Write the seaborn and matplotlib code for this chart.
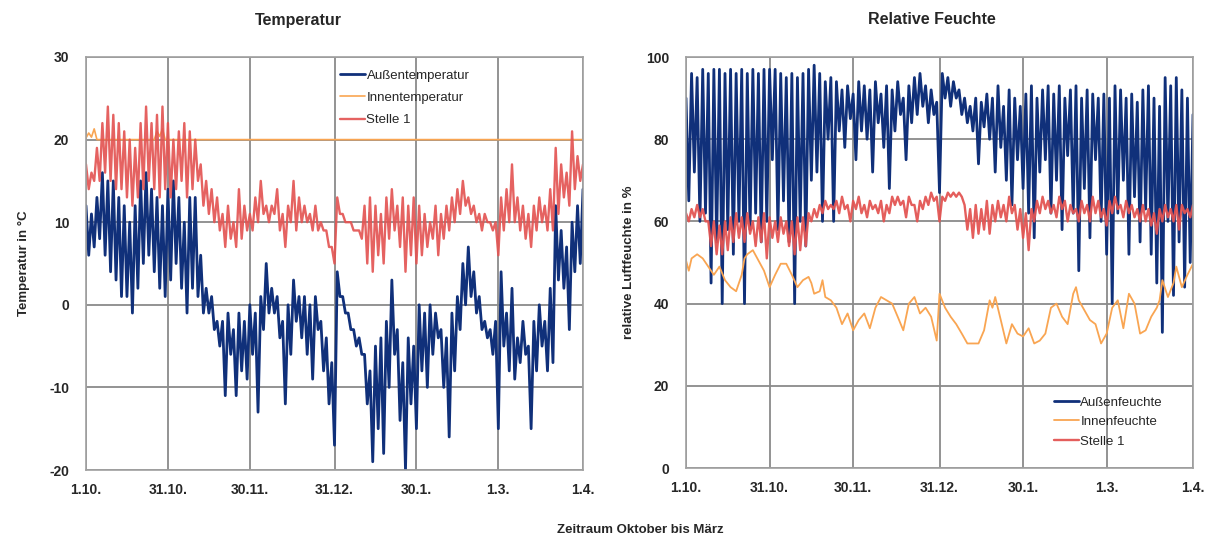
import numpy as np
import pandas as pd
import matplotlib
matplotlib.use("Agg")
import matplotlib.pyplot as plt
import seaborn as sns

# ---------------- data ----------------
tick_days = [0, 30, 60, 91, 121, 151, 182]
tick_labels = ["1.10.", "31.10.", "30.11.", "31.12.", "30.1.", "1.3.", "1.4."]

# Temperature: (high, low) per 2-day window, last value = day 182
aussen_temp_hi = [12, 11, 13, 16, 15, 15, 13, 12, 10, 12, 15, 16, 14, 13, 12, 14, 15, 13, 10, 13,
                  13, 6, 2, 1, -2, -2, -1, -3, -1, -2, 0, -1, 1, 5, 2, 1, -2, 0, 3, 1,
                  1, 0, 1, -2, -4, -7, 4, 1, -1, -3, -4, -6, -8, -5, -4, -2, 3, -3, -7, -4,
                  -5, 0, -1, 0, -1, -3, -4, -1, 1, 5, 7, 4, 1, -2, -3, -2, 4, -1, 2, -4,
                  -2, -5, -2, 0, -2, 2, 12, 9, 7, 10, 12]
aussen_temp_lo = [6, 7, 8, 6, 4, 3, 1, 1, -1, 2, 5, 6, 4, 2, 1, 3, 5, 2, -1, 2,
                  1, -1, -1, -3, -5, -11, -6, -11, -8, -9, -6, -13, -3, -1, -1, -4, -12, -6, -2, -4,
                  -6, -9, -3, -8, -12, -17, 1, -1, -3, -5, -6, -12, -19, -15, -18, -10, -6, -14, -20, -12,
                  -15, -8, -10, -6, -4, -10, -16, -8, -3, 0, 1, -1, -3, -4, -6, -15, -5, -8, -9, -7,
                  -6, -15, -8, -5, -8, -7, 3, 2, -3, 4, 5]
aussen_temp_end = 14

stelle_temp_hi = [17, 16, 19, 22, 24, 23, 22, 21, 20, 19, 22, 24, 22, 23, 24, 22, 20, 21, 22, 21,
                  20, 17, 15, 14, 13, 11, 12, 10, 14, 12, 11, 13, 15, 12, 12, 14, 11, 12, 15, 13,
                  12, 11, 12, 10, 9, 7, 13, 11, 10, 9, 9, 12, 13, 12, 11, 13, 14, 12, 13, 12,
                  13, 12, 11, 10, 12, 11, 12, 13, 14, 15, 13, 12, 11, 11, 10, 10, 13, 14, 17, 13,
                  12, 11, 12, 13, 12, 14, 19, 17, 16, 21, 18]
stelle_temp_lo = [14, 15, 15, 16, 15, 14, 14, 13, 12, 13, 14, 15, 14, 13, 14, 13, 14, 15, 13, 14,
                  15, 12, 11, 10, 9, 7, 8, 7, 8, 9, 9, 10, 11, 10, 11, 9, 7, 10, 9, 10,
                  10, 9, 9, 9, 7, 5, 11, 10, 10, 9, 8, 5, 4, 6, 5, 8, 9, 7, 4, 6,
                  5, 6, 7, 8, 6, 8, 9, 10, 11, 12, 11, 10, 9, 10, 9, 6, 9, 10, 10, 9,
                  8, 7, 9, 10, 9, 9, 11, 13, 12, 14, 15]
stelle_temp_end = 17

innen_temp_days = [0, 1, 2, 3, 4, 5, 6, 25, 26, 27, 28, 29, 182]
innen_temp_vals = [20.2, 20.8, 20.3, 21.3, 20.0, 20.0, 20.0, 20.0, 21.0, 20.4, 21.3, 20.0, 20.0]

# Relative humidity
aussen_rh_hi = [90, 96, 95, 97, 96, 97, 97, 96, 97, 96, 97, 96, 97, 96, 97, 97, 97, 96, 95, 96,
                95, 96, 97, 98, 96, 94, 95, 94, 92, 93, 91, 94, 93, 92, 94, 91, 93, 92, 94, 90,
                93, 95, 96, 93, 92, 89, 96, 95, 94, 92, 90, 88, 90, 89, 91, 90, 93, 88, 92, 90,
                88, 91, 93, 90, 92, 93, 91, 93, 90, 92, 93, 90, 92, 91, 90, 91, 90, 93, 92, 90,
                91, 89, 92, 93, 90, 88, 95, 93, 95, 92, 90]
aussen_rh_lo = [65, 72, 60, 62, 45, 55, 40, 58, 52, 60, 40, 58, 62, 55, 60, 75, 58, 65, 55, 40,
                60, 54, 70, 72, 60, 80, 60, 82, 78, 85, 75, 82, 80, 72, 84, 78, 68, 82, 86, 75,
                84, 86, 88, 84, 86, 67, 90, 88, 90, 86, 84, 82, 74, 83, 80, 72, 78, 70, 64, 75,
                68, 62, 56, 72, 75, 62, 70, 58, 76, 62, 48, 68, 56, 75, 60, 52, 40, 62, 70, 52,
                66, 55, 63, 52, 45, 33, 60, 42, 55, 44, 50]
aussen_rh_end = 86

stelle_rh_hi = [62, 63, 64, 63, 60, 60, 59, 60, 61, 62, 61, 62, 60, 61, 62, 61, 60, 61, 60, 60,
                61, 61, 62, 63, 64, 65, 64, 65, 66, 64, 65, 66, 64, 65, 64, 65, 64, 66, 66, 65,
                66, 64, 65, 66, 67, 66, 66, 67, 67, 67, 64, 63, 64, 63, 65, 64, 65, 64, 66, 64,
                63, 62, 63, 65, 66, 65, 64, 66, 65, 64, 63, 65, 64, 66, 65, 63, 65, 66, 64, 65,
                64, 63, 64, 63, 62, 63, 64, 63, 64, 64, 63]
stelle_rh_lo = [60, 61, 61, 60, 54, 52, 52, 53, 55, 56, 55, 57, 54, 55, 51, 56, 55, 57, 54, 52,
                53, 54, 60, 61, 62, 63, 63, 62, 63, 60, 63, 62, 61, 63, 62, 60, 62, 64, 64, 61,
                64, 60, 63, 64, 65, 60, 65, 66, 66, 66, 58, 56, 57, 58, 57, 60, 61, 60, 62, 58,
                56, 53, 60, 62, 63, 62, 61, 63, 60, 62, 60, 62, 60, 62, 61, 59, 62, 63, 61, 62,
                61, 60, 60, 59, 57, 60, 61, 60, 58, 62, 61]
stelle_rh_end = 64

innen_rh_days = [0, 1, 2, 4, 6, 8, 10, 12, 14, 16, 18, 20, 21, 22, 24, 26, 28, 30, 32, 34,
                 36, 38, 40, 42, 44, 45, 46, 48, 49, 50, 52, 54, 56, 58, 60, 62, 64, 66, 68, 70,
                 72, 74, 76, 78, 80, 82, 84, 86, 88, 90, 91, 93, 95, 97, 99, 101, 103, 105, 107, 109,
                 110, 111, 113, 115, 117, 119, 121, 123, 125, 127, 129, 131, 133, 135, 137, 139, 140, 141, 143, 145,
                 147, 149, 151, 153, 155, 157, 159, 161, 163, 165, 167, 169, 170, 171, 173, 175, 176, 178, 180, 182]
innen_rh_vals = [50.5, 48, 51, 52, 51, 49, 47, 49, 45.7, 44, 43, 47, 51, 52, 53, 50.5, 48, 44, 47, 49.7,
                 49.7, 47, 44, 45.7, 46.5, 45, 42.4, 43, 45.7, 41.6, 40.8, 39, 35, 37.6, 33.5, 36, 37.6, 34, 39, 41.6,
                 40.8, 40, 36.8, 33.5, 40, 41.6, 37.6, 39, 36.8, 31, 42.4, 39, 36.8, 35, 32.7, 30.3, 30.3, 30.3, 33.5, 40.8,
                 39, 41.6, 36, 30.3, 35, 32.7, 32, 34, 30.3, 31, 32.7, 39, 40, 36.8, 35, 42.4, 44, 40.8, 38.4, 36,
                 35, 30.3, 32.7, 39, 40.8, 34, 42.4, 40, 32.7, 33.5, 36.8, 39, 40.8, 45.7, 41.6, 45, 49, 44, 47, 49.7]


def zigzag(hi, lo, end):
    vals = []
    for h, l in zip(hi, lo):
        vals.extend([h, l])
    vals.append(end)
    return np.arange(len(vals)), np.array(vals, dtype=float)


BLUE = "#10307a"
ORANGE = "#f9a552"
RED = "#e35553"
GRID = "#8a8a8a"

sns.set_style("white")
plt.rcParams["font.family"] = ["Liberation Sans", "DejaVu Sans"]
plt.rcParams["axes.unicode_minus"] = False

fig = plt.figure(figsize=(12.11, 5.38), dpi=100)
ax1 = fig.add_axes([86 / 1211, 1 - 470 / 538, 497 / 1211, 413 / 538])
ax2 = fig.add_axes([686 / 1211, 1 - 468 / 538, 507 / 1211, 411 / 538])

# ---- temperature panel
d, v = zigzag(aussen_temp_hi, aussen_temp_lo, aussen_temp_end)
df_a = pd.DataFrame({"Tag": d, "Wert": v})
sns.lineplot(data=df_a, x="Tag", y="Wert", ax=ax1, color=BLUE, lw=2.0,
             estimator=None, sort=False, label="Außentemperatur")
df_i = pd.DataFrame({"Tag": innen_temp_days, "Wert": innen_temp_vals})
sns.lineplot(data=df_i, x="Tag", y="Wert", ax=ax1, color=ORANGE, lw=1.2,
             estimator=None, sort=False, label="Innentemperatur")
d, v = zigzag(stelle_temp_hi, stelle_temp_lo, stelle_temp_end)
df_s = pd.DataFrame({"Tag": d, "Wert": v})
sns.lineplot(data=df_s, x="Tag", y="Wert", ax=ax1, color=RED, lw=1.7, alpha=0.92,
             estimator=None, sort=False, label="Stelle 1")

# ---- humidity panel
d, v = zigzag(aussen_rh_hi, aussen_rh_lo, aussen_rh_end)
df_ah = pd.DataFrame({"Tag": d, "Wert": v})
sns.lineplot(data=df_ah, x="Tag", y="Wert", ax=ax2, color=BLUE, lw=2.0,
             estimator=None, sort=False, label="Außenfeuchte")
df_ih = pd.DataFrame({"Tag": innen_rh_days, "Wert": innen_rh_vals})
sns.lineplot(data=df_ih, x="Tag", y="Wert", ax=ax2, color=ORANGE, lw=1.3,
             estimator=None, sort=False, label="Innenfeuchte")
d, v = zigzag(stelle_rh_hi, stelle_rh_lo, stelle_rh_end)
df_sh = pd.DataFrame({"Tag": d, "Wert": v})
sns.lineplot(data=df_sh, x="Tag", y="Wert", ax=ax2, color=RED, lw=1.7, alpha=0.95,
             estimator=None, sort=False, label="Stelle 1")

for ax, ylim, yticks in [(ax1, (-20, 30), [-20, -10, 0, 10, 20, 30]),
                         (ax2, (0, 100), [0, 20, 40, 60, 80, 100])]:
    ax.set_xlim(0, 182)
    ax.set_ylim(*ylim)
    ax.set_xticks(tick_days)
    ax.set_xticklabels(tick_labels)
    ax.set_yticks(yticks)
    ax.grid(True, color=GRID, lw=1.3)
    ax.set_axisbelow(True)
    for sp in ax.spines.values():
        sp.set_color("#a0a0a0")
        sp.set_linewidth(1.2)
    ax.tick_params(axis="both", length=0, labelsize=10)
    ax.tick_params(axis="x", pad=9)
    ax.tick_params(axis="y", pad=12)
    for lab in ax.get_xticklabels() + ax.get_yticklabels():
        lab.set_fontweight("bold")
    ax.set_xlabel("")

ax1.set_ylabel("Temperatur in °C", fontsize=9.5, fontweight="bold", labelpad=14)
ax2.set_ylabel("relative Luftfeuchte in %", fontsize=9.5, fontweight="bold", labelpad=8)

ax1.legend(loc="upper left", bbox_to_anchor=(0.49, 0.995), frameon=False, fontsize=9.5,
           handlelength=1.9, handletextpad=0.1, labelspacing=0.75, borderpad=0.3)
ax2.legend(loc="upper left", bbox_to_anchor=(0.705, 0.2), frameon=False, fontsize=9.5,
           handlelength=1.9, handletextpad=0.1, labelspacing=0.55, borderpad=0.3)

fig.text(298 / 1211, 1 - 20 / 538, "Temperatur", ha="center", va="center",
         fontsize=11.5, fontweight="bold")
fig.text(932 / 1211, 1 - 20 / 538, "Relative Feuchte", ha="center", va="center",
         fontsize=11.5, fontweight="bold")
fig.text(640 / 1211, 1 - 530 / 538, "Zeitraum Oktober bis März", ha="center", va="center",
         fontsize=9.5, fontweight="bold")

fig.savefig("out.png", dpi=100, facecolor="white")
